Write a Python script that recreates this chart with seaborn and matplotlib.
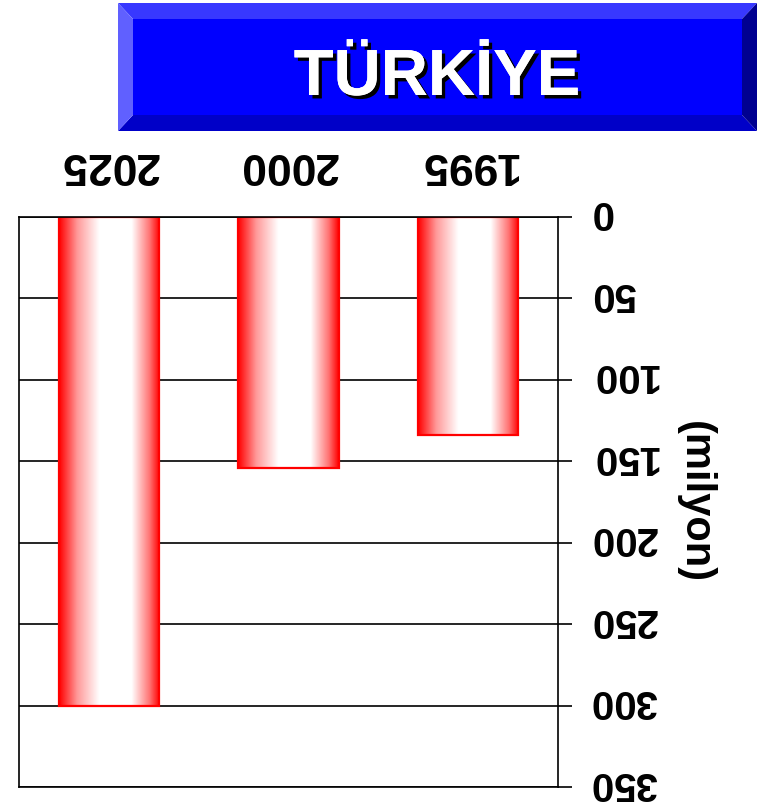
import numpy as np
import pandas as pd
import matplotlib
matplotlib.use("Agg")
import matplotlib.pyplot as plt
import seaborn as sns
from matplotlib.colors import LinearSegmentedColormap
from matplotlib.patches import Polygon, Rectangle
from matplotlib.transforms import ScaledTranslation
import matplotlib.patheffects as pe

# Population (millions)
years = ["1995", "2000", "2025"]
population = [134, 154, 300]
y_ticks = [0, 50, 100, 150, 200, 250, 300, 350]
title = "TÜRKİYE"
unit_label = "(milyon)"

W, H = 765, 807
sns.set_theme(style="white")
plt.rcParams["font.family"] = ["Liberation Sans", "DejaVu Sans"]
plt.rcParams["font.weight"] = "bold"

fig = plt.figure(figsize=(W / 100, H / 100), dpi=100)
fig.patch.set_facecolor("white")
ax = fig.add_axes([19 / W, 20 / H, 539 / W, 570 / H])

df = pd.DataFrame({"year": years, "pop": population})
sns.barplot(data=df, x="year", y="pop", order=years, width=0.56,
            color="red", edgecolor="red", linewidth=1.6, ax=ax)

# red-white-red cylinder shading for each bar
shade = LinearSegmentedColormap.from_list(
    "cyl",
    [(0.0, (1, 0, 0)), (0.1, (1, 0.45, 0.45)), (0.28, (1, 1, 1)),
     (0.6, (1, 1, 1)), (0.82, (1, 0.6, 0.6)), (1.0, (1, 0, 0))])
grad = np.linspace(0, 1, 256).reshape(1, -1)
for p in ax.patches:
    x0, w = p.get_x(), p.get_width()
    y0, h = p.get_y(), p.get_height()
    im = ax.imshow(grad, cmap=shade, aspect="auto",
                   extent=(x0, x0 + w, y0, y0 + h), zorder=1.5,
                   interpolation="bilinear")
    im.set_clip_path(p)
    p.set_facecolor("none")
    p.set_zorder(2)

# chart drawn upside down: inverted axes, labels turned over
ax.set_xlim(2.5, -0.5)
ax.set_ylim(350, 0)
ax.set_yticks(y_ticks)
ax.yaxis.tick_right()
ax.xaxis.tick_top()
ax.set_xlabel("")
ax.set_ylabel("")
ax.tick_params(axis="y", which="both", right=True, left=False, direction="out",
               length=10, width=1.2, color="black", labelsize=29,
               labelrotation=180, pad=13, labelcolor="black")
ax.tick_params(axis="x", top=False, bottom=False, labelsize=32,
               labelrotation=180, pad=17, labelcolor="black")
lift = ScaledTranslation(0, 0.045, fig.dpi_scale_trans)
for lab in ax.get_yticklabels():
    lab.set_fontweight("bold")
    lab.set_verticalalignment("center")
    lab.set_transform(lab.get_transform() + lift)
for lab in ax.get_xticklabels():
    lab.set_fontweight("bold")

ax.yaxis.grid(True, color="black", linewidth=1.2)
ax.xaxis.grid(False)
ax.set_axisbelow(True)
for s in ax.spines.values():
    s.set_visible(True)
    s.set_color("black")
    s.set_linewidth(1.2)

ax.text((695 - 19) / 539, 0.5, unit_label, transform=ax.transAxes,
        rotation=270, ha="center", va="center", fontsize=30,
        fontweight="bold", color="black")

# beveled title box
ov = fig.add_axes([0, 0, 1, 1])
ov.set_xlim(0, W)
ov.set_ylim(H, 0)
ov.axis("off")
x0, x1, y0, y1 = 118, 757, 3, 131
ix0, ix1, iy0, iy1 = 133, 742, 19, 115
ov.add_patch(Rectangle((ix0, iy0), ix1 - ix0, iy1 - iy0, color="#0000FF", lw=0))
ov.add_patch(Polygon([(x0, y0), (x1, y0), (ix1, iy0), (ix0, iy0)], color="#3838FF", lw=0))
ov.add_patch(Polygon([(x0, y1), (x1, y1), (ix1, iy1), (ix0, iy1)], color="#0000C8", lw=0))
ov.add_patch(Polygon([(x0, y0), (ix0, iy0), (ix0, iy1), (x0, y1)], color="#6060FF", lw=0))
ov.add_patch(Polygon([(x1, y0), (ix1, iy0), (ix1, iy1), (x1, y1)], color="#000090", lw=0))
ov.text(437, 95, title, ha="center", va="baseline", fontsize=47,
        fontweight="bold", color="white",
        path_effects=[pe.withSimplePatchShadow(offset=(2.5, -2.5), shadow_rgbFace="black", alpha=1.0),
                      pe.Normal()])

fig.savefig("out.png", dpi=100, facecolor="white")
